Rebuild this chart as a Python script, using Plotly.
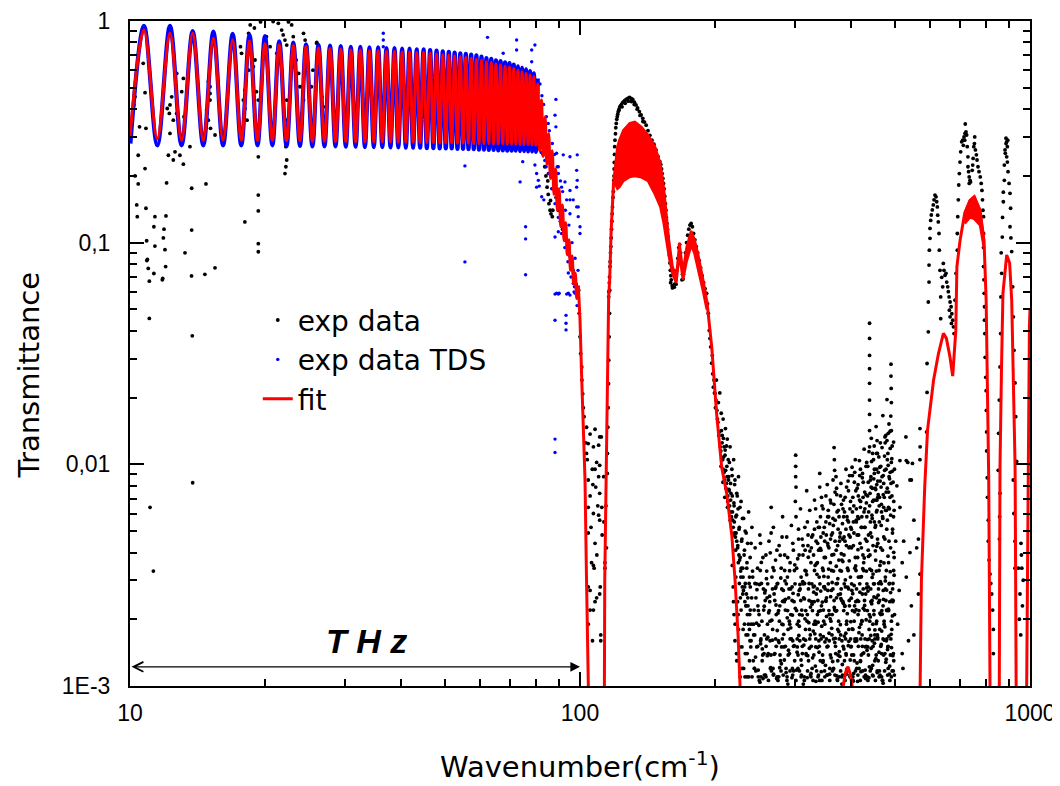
import math
import plotly.graph_objects as go

# ------------------------------------------------------------------ data
# fit: fringe maxima / minima (10 - 100 cm-1)
fit_start_w = 10.0
fit_start_t = 0.30
fit_peak_w = [10.74, 12.27, 13.78, 15.32, 16.91, 18.43, 19.95, 21.46, 23.06, 24.61, 26.23, 27.83,
              29.40, 30.95, 32.50, 34.05, 35.60, 37.15, 38.70, 40.25, 41.80, 43.35, 44.90, 46.45,
              48.00, 49.55, 51.10, 52.65, 54.20, 55.75, 57.30, 58.85, 60.40, 61.95, 63.50, 65.05,
              66.60, 68.15, 69.70, 71.25, 72.80, 74.35, 75.90, 77.45, 79.00, 80.55, 82.10, 83.65,
              85.20, 86.75, 88.30, 89.85, 91.40, 92.95, 94.50, 96.05, 97.60, 99.15]
fit_peak_t = [0.91, 0.88, 0.88, 0.835, 0.82, 0.81, 0.79, 0.78, 0.775, 0.765, 0.755, 0.75,
              0.745, 0.74, 0.74, 0.735, 0.735, 0.73, 0.73, 0.725, 0.725, 0.72, 0.72, 0.715,
              0.71, 0.705, 0.70, 0.695, 0.69, 0.685, 0.68, 0.67, 0.665, 0.655, 0.65, 0.64,
              0.635, 0.625, 0.62, 0.61, 0.60, 0.59, 0.58, 0.57, 0.56, 0.52, 0.44, 0.37,
              0.31, 0.26, 0.215, 0.175, 0.148, 0.123, 0.103, 0.087, 0.073, 0.064]
fit_trough_w = [11.50, 13.02, 14.55, 16.10, 17.67, 19.20, 20.72, 22.28, 23.86, 25.43, 27.05, 28.62,
                30.17, 31.72, 33.27, 34.82, 36.37, 37.92, 39.47, 41.02, 42.57, 44.12, 45.67, 47.22,
                48.77, 50.32, 51.87, 53.42, 54.97, 56.52, 58.07, 59.62, 61.17, 62.72, 64.27, 65.82,
                67.37, 68.92, 70.47, 72.02, 73.57, 75.12, 76.67, 78.22, 79.77, 81.32, 82.87, 84.42,
                85.97, 87.52, 89.07, 90.62, 92.17, 93.72, 95.27, 96.82, 98.37]
fit_trough_t = [0.295, 0.29, 0.29, 0.29, 0.29, 0.29, 0.29, 0.288, 0.288, 0.287, 0.287, 0.286,
                0.286, 0.285, 0.285, 0.285, 0.285, 0.285, 0.284, 0.284, 0.284, 0.283, 0.283, 0.283,
                0.282, 0.282, 0.282, 0.281, 0.281, 0.281, 0.28, 0.28, 0.28, 0.28, 0.279, 0.279,
                0.279, 0.278, 0.278, 0.278, 0.277, 0.277, 0.277, 0.276, 0.275, 0.26, 0.245, 0.225,
                0.195, 0.165, 0.14, 0.118, 0.102, 0.088, 0.075, 0.065, 0.056]

# fit beyond 99 cm-1
fit_tail_w = [99.15, 100.0, 100.8, 101.7, 102.6, 103.4, 103.8, 108.5, 113.3, 113.5, 114.3, 115.1,
              115.8, 116.4, 117.3, 118.8]
fit_tail_t = [0.064, 0.045, 0.0257, 0.015, 0.0085, 0.003, 0.001, 0.00001, 0.001, 0.003, 0.0085, 0.0257,
              0.057, 0.068, 0.114, 0.191]
# fast-oscillating part of the fit (envelopes)
band_w = [118.8, 121.1, 122.3, 124.9, 128.9, 132.4, 136.9, 141.6, 146.8, 150.9, 153.5, 155.8,
          157.7, 160.6, 163.7, 166.3, 169.4, 172.5, 176.6, 179.5, 182.9, 187.8, 191.3]
band_hi = [0.191, 0.271, 0.29, 0.322, 0.345, 0.351, 0.333, 0.306, 0.271, 0.227, 0.178, 0.126,
           0.102, 0.078, 0.070, 0.100, 0.074, 0.095, 0.113, 0.104, 0.089, 0.068, 0.055]
band_lo = [0.191, 0.175, 0.178, 0.19, 0.198, 0.20, 0.197, 0.19, 0.165, 0.145, 0.122, 0.10,
           0.086, 0.072, 0.066, 0.088, 0.068, 0.082, 0.097, 0.09, 0.077, 0.06, 0.05]
fit_tail2_w = [191.3, 196.2, 201.2, 206.5, 211.8, 217.4, 221.1, 224.5, 226.8, 235, 300, 378,
               384.6, 389, 393.6, 398, 402.5, 409, 500, 566, 570, 573.7, 583.5, 592, 610.6, 626,
               642, 652, 664, 673.3, 684, 688, 699, 716, 735.6, 751.8, 774.3, 790.4, 799, 804,
               809.5, 815, 835, 854.6, 857.7, 864.4, 870.7, 887.6, 895, 901, 910.7, 921.8, 926.6,
               931.6, 955, 980, 983.1, 990, 997, 1000]
fit_tail2_t = [0.055, 0.034, 0.0169, 0.0097, 0.0074, 0.0048, 0.003, 0.0017, 0.001, 0.00001, 0.00001, 0.00001,
               0.001, 0.00115, 0.00122, 0.00115, 0.001, 0.00001, 0.00001, 0.00001, 0.001, 0.003, 0.0079, 0.0143, 0.024, 0.0316,
               0.039, 0.037, 0.0305, 0.025, 0.04, 0.078, 0.102, 0.136, 0.155, 0.161, 0.14, 0.102, 0.055, 0.0275,
               0.0087, 0.001, 0.00001, 0.001, 0.0097, 0.0275, 0.059, 0.088, 0.083, 0.081, 0.055, 0.0194, 0.0097,
               0.001, 0.00001, 0.00001, 0.001, 0.012, 0.042, 0.05]
band2_w = [716, 735.6, 751.8, 774.3, 790.4]
band2_hi = [0.136, 0.155, 0.161, 0.14, 0.102]
band2_lo = [0.122, 0.13, 0.128, 0.12, 0.094]

# TDS data: fringe extrema (densely sampled, 10 - 81 cm-1)
tds_start_w = 10.02
tds_start_t = 0.28
tds_peak_t = [0.95, 0.95, 0.90, 0.895, 0.875, 0.865, 0.855, 0.81, 0.80, 0.785,
              0.78, 0.775, 0.77, 0.765, 0.765, 0.76, 0.76, 0.755, 0.755, 0.75,
              0.75, 0.745, 0.745, 0.74, 0.735, 0.73, 0.725, 0.72, 0.715, 0.71,
              0.705, 0.70, 0.69, 0.68, 0.675, 0.665, 0.66, 0.65, 0.645, 0.635,
              0.625, 0.615, 0.605, 0.595, 0.58, 0.55]
tds_trough_t = [0.275, 0.275, 0.275, 0.275, 0.275, 0.275, 0.275, 0.273, 0.273, 0.272,
                0.272, 0.272, 0.271, 0.271, 0.27, 0.27, 0.27, 0.269, 0.269, 0.268,
                0.268, 0.268, 0.267, 0.267, 0.266, 0.266, 0.266, 0.265, 0.265, 0.264,
                0.264, 0.263, 0.263, 0.262, 0.262, 0.261, 0.261, 0.26, 0.26, 0.26,
                0.259, 0.259, 0.258, 0.258, 0.257]
# TDS scattered points
tds_points = [
    (36.55, 0.88), (36.55, 0.821), (36.55, 0.765), (62.3, 0.844), (67.5, 0.715), (72.3, 0.821), (72.3, 0.74),
    (78.1, 0.74), (79.4, 0.779), (78.1, 0.655), (55.5, 0.222), (55.5, 0.0819), (73.6, 0.188), (75.7, 0.118),
    (75.7, 0.104), (75.7, 0.0717), (79.4, 0.224), (80.1, 0.205), (80.1, 0.178), (82.2, 0.161), (80.8, 0.191),
    (83.6, 0.29), (85.0, 0.345), (85.0, 0.30), (88.4, 0.443), (88.0, 0.376), (88.4, 0.333), (88.7, 0.253),
    (89.5, 0.22), (89.5, 0.205), (91.8, 0.249), (95.0, 0.244), (98.6, 0.249), (98.3, 0.212), (98.6, 0.191),
    (98.3, 0.178), (99.1, 0.145), (99.1, 0.131), (100.0, 0.118), (100.0, 0.11), (92.6, 0.188), (95.0, 0.172),
    (95.0, 0.156), (95.0, 0.135), (93.4, 0.156), (88.0, 0.106), (89.5, 0.112), (93.4, 0.096), (95.0, 0.0866),
    (94.2, 0.073), (94.2, 0.0591), (88.7, 0.0591), (89.9, 0.0591), (96.6, 0.073), (97.2, 0.0632), (98.3, 0.145),
    (96.6, 0.156), (91.0, 0.178), (90.3, 0.145), (87.2, 0.205), (85.8, 0.235), (84.1, 0.22), (81.2, 0.18),
    (83.1, 0.156), (74.6, 0.232), (88.0, 0.0586), (89.5, 0.0586), (93.4, 0.0586), (95.0, 0.058), (93.1, 0.047),
    (93.1, 0.0433), (93.1, 0.0404), (88.0, 0.0447), (88.0, 0.013), (88.0, 0.0113), (96.6, 0.0655), (98.6, 0.0632),
    (97.5, 0.0591), (81.5, 0.52), (82.3, 0.46), (83.0, 0.42), (84.2, 0.37), (85.5, 0.32), (86.8, 0.28),
    (87.8, 0.25), (89.0, 0.22), (90.5, 0.19), (91.5, 0.17), (92.8, 0.14), (94.5, 0.12), (96.0, 0.10),
    (97.5, 0.085), (99.0, 0.075), (82.0, 0.255), (83.5, 0.235), (85.0, 0.205), (86.5, 0.175), (88.0, 0.15),
    (89.5, 0.13), (91.0, 0.11), (92.5, 0.095), (94.0, 0.082), (95.5, 0.07), (97.0, 0.06), (98.5, 0.052)]

# FTIR experimental data ("exp data")
exp_low = [
    (10.26, 0.455), (10.2, 0.418), (10.7, 0.644), (10.8, 0.475), (10.5, 0.333), (10.85, 0.328), (10.43, 0.248),
    (10.8, 0.216), (10.26, 0.2), (10.43, 0.184), (10.35, 0.148), (10.85, 0.143), (10.38, 0.131), (11.36, 0.131),
    (11.3, 0.118), (10.89, 0.102), (11.9, 0.115), (11.86, 0.105), (12.02, 0.132), (12.06, 0.186), (11.96, 0.093),
    (11.36, 0.0965), (10.93, 0.084), (12.17, 0.248), (12.48, 0.236), (12.59, 0.257), (12.91, 0.248), (13.14, 0.226),
    (12.7, 0.58), (13.14, 0.551), (13.03, 0.48), (12.38, 0.455), (12.27, 0.418), (12.1, 0.403), (12.23, 0.383),
    (12.48, 0.357), (12.27, 0.311), (12.7, 0.383), (13.18, 0.37), (13.59, 0.271), (13.71, 0.176), (13.71, 0.114),
    (13.25, 0.09), (14.75, 0.184), (14.93, 0.532), (15.06, 0.471), (15.06, 0.44), (14.8, 0.397), (14.93, 0.357),
    (15.1, 0.328), (15.45, 0.306), (15.06, 0.505), (18.0, 0.124), (19.28, 0.164), (19.28, 0.139), (19.28, 0.099),
    (19.28, 0.091), (19.28, 0.244), (18.5, 0.96), (18.35, 0.88), (17.6, 0.766), (17.7, 0.715), (18.35, 0.6),
    (18.8, 0.622), (18.96, 0.667), (18.44, 0.766), (18.1, 0.542), (18.0, 0.488), (17.86, 0.44), (18.0, 0.403),
    (18.2, 0.357), (19.1, 0.48), (19.28, 0.44), (20.1, 0.85), (20.48, 0.766), (21.2, 0.715), (21.36, 0.976),
    (21.73, 0.91), (21.9, 0.865), (22.1, 0.82), (22.3, 0.779), (22.87, 0.96), (23.06, 0.85), (22.3, 0.44),
    (22.3, 0.357), (22.2, 0.271), (22.3, 0.236), (22.2, 0.22), (22.1, 0.205), (24.3, 0.88), (24.5, 0.82),
    (24.7, 0.766), (23.4, 0.667), (23.7, 0.58), (23.86, 0.505), (24.3, 0.44), (24.1, 0.383), (26.0, 0.793),
    (26.2, 0.74), (26.7, 0.455), (26.9, 0.41), (27.1, 0.357), (25.3, 0.505), (25.5, 0.6), (12.0, 0.078),
    (10.9, 0.083), (10.98, 0.0765), (11.04, 0.067), (11.3, 0.0726), (11.82, 0.069), (13.7, 0.0708), (14.67, 0.072),
    (15.45, 0.077), (11.04, 0.0455), (13.75, 0.038), (13.78, 0.00826), (11.08, 0.0064), (11.27, 0.0033),
    (11.8, 0.068), (19.5, 0.99), (20.8, 0.995), (22.5, 0.99), (18.9, 0.93), (26.0, 0.8)]
exp_edge = [
    (83.2, 0.30), (82.8, 0.25), (83.5, 0.22), (84.0, 0.20), (84.8, 0.19), (84.5, 0.178), (85.0, 0.165),
    (85.3, 0.15), (85.8, 0.14), (86.2, 0.135), (86.8, 0.131), (87.0, 0.14), (86.0, 0.155), (88.5, 0.16),
    (89.5, 0.14), (90.5, 0.125), (91.5, 0.115), (92.5, 0.105), (93.5, 0.095), (94.5, 0.09), (95.5, 0.082),
    (96.5, 0.075), (97.3, 0.07), (98.0, 0.065), (98.7, 0.06), (99.3, 0.061), (99.6, 0.048), (100.0, 0.0376),
    (100.35, 0.0316), (100.9, 0.0275), (101.0, 0.024), (101.4, 0.0208), (101.7, 0.018), (102.1, 0.0164),
    (103.4, 0.0147), (105.3, 0.0137), (108.0, 0.0144), (110.6, 0.0133), (104.3, 0.0124), (107.1, 0.012),
    (110.0, 0.0122), (103.4, 0.0112), (108.9, 0.0102), (110.6, 0.0099), (108.0, 0.0095), (110.0, 0.0088),
    (104.3, 0.0085), (108.4, 0.0079), (110.6, 0.0074), (105.3, 0.0072), (107.1, 0.006), (104.3, 0.0064),
    (110.0, 0.0059), (104.3, 0.0049), (110.6, 0.0056), (108.0, 0.0044), (114.5, 0.0042), (106.1, 0.0036),
    (113.6, 0.0036), (107.1, 0.0035), (112.9, 0.0088), (111.5, 0.0133), (116.4, 0.061), (116.3, 0.048),
    (116.1, 0.0376), (115.8, 0.0295), (115.7, 0.0231), (115.5, 0.018), (115.3, 0.0147), (115.1, 0.0112),
    (115.0, 0.0091), (107.5, 0.0034), (104.3, 0.0028), (105.3, 0.0027), (108.9, 0.0025), (110.6, 0.0026),
    (108.0, 0.0024), (105.3, 0.0022), (107.1, 0.0022), (104.3, 0.0019), (106.6, 0.0016), (111.2, 0.0017),
    (111.2, 0.0016), (110.9, 0.0028), (113.6, 0.0034), (106.5, 0.0095), (109.5, 0.0065), (105.8, 0.0052),
    (112.0, 0.0048), (109.0, 0.0039), (103.8, 0.0105), (106.8, 0.0081), (111.8, 0.0064), (113.0, 0.0055),
    (114.2, 0.0065), (103.0, 0.0125)]
exp_band = [
    (115.8, 0.057), (115.9, 0.06), (116.2, 0.066), (116.3, 0.07), (116.6, 0.078), (116.7, 0.082), (116.9, 0.09),
    (117.1, 0.096), (117.3, 0.105), (117.5, 0.115), (117.7, 0.125), (117.9, 0.135), (118.1, 0.145), (118.4, 0.16),
    (118.6, 0.17), (118.9, 0.191), (119.0, 0.2), (119.1, 0.215), (119.2, 0.23), (119.3, 0.25), (119.4, 0.271),
    (119.6, 0.29), (119.9, 0.31), (120.1, 0.33), (120.4, 0.345), (120.7, 0.36), (121.0, 0.37), (121.3, 0.38),
    (121.6, 0.39), (122.1, 0.40), (122.6, 0.41), (123.1, 0.415), (123.7, 0.422), (124.6, 0.43), (125.6, 0.437),
    (126.6, 0.443), (127.7, 0.448), (128.8, 0.452), (129.9, 0.448), (131.0, 0.443), (132.1, 0.43), (133.2, 0.418),
    (134.3, 0.405), (135.5, 0.39), (136.7, 0.377), (137.9, 0.364), (139.1, 0.35), (140.3, 0.339), (141.6, 0.32),
    (143.0, 0.305), (144.5, 0.29), (146.0, 0.278), (147.5, 0.262), (149.0, 0.245), (150.5, 0.232), (151.2, 0.225),
    (151.8, 0.215), (152.3, 0.205), (152.8, 0.195), (153.3, 0.185), (153.8, 0.175), (154.3, 0.162), (154.8, 0.15),
    (155.2, 0.14), (155.6, 0.13), (156.0, 0.122), (156.4, 0.115), (156.8, 0.107), (157.2, 0.1), (157.6, 0.094),
    (158.0, 0.088), (158.4, 0.081), (158.8, 0.075), (159.2, 0.071), (159.5, 0.068), (160.3, 0.064), (161.2, 0.0635),
    (162.2, 0.065), (163.2, 0.068), (164.2, 0.075), (165.0, 0.085), (165.8, 0.095), (166.5, 0.098), (167.3, 0.09),
    (168.2, 0.08), (169.0, 0.072), (169.8, 0.072), (170.6, 0.08), (171.5, 0.09), (172.5, 0.1), (173.5, 0.108),
    (174.5, 0.115), (175.5, 0.12), (176.6, 0.122), (177.7, 0.118), (178.8, 0.11), (180.0, 0.103), (181.3, 0.096),
    (182.6, 0.09), (184.0, 0.083), (185.4, 0.077), (186.8, 0.071), (188.2, 0.066), (189.6, 0.062), (122.0, 0.395),
    (124.0, 0.41), (126.0, 0.425), (128.0, 0.435), (130.0, 0.433), (132.0, 0.42), (134.0, 0.4), (136.0, 0.375),
    (138.0, 0.352), (159.0, 0.066), (160.5, 0.0625), (162.0, 0.063), (163.5, 0.065), (168.5, 0.068), (169.5, 0.0685)]
exp_noise_a = [
    (199, 0.021), (200, 0.018), (201, 0.024), (202, 0.016), (203, 0.019), (204, 0.014), (204.5, 0.021), (205, 0.012),
    (206, 0.017), (206.5, 0.0105), (207, 0.0135), (208, 0.0095), (208, 0.016), (209, 0.012), (209.5, 0.0085),
    (210, 0.011), (210.5, 0.0145), (211, 0.0078), (212, 0.0098), (212.5, 0.013), (213, 0.0072), (213.5, 0.0105),
    (214, 0.0088), (215, 0.0065), (215.5, 0.012), (216, 0.0082), (217, 0.0058), (217.5, 0.0095), (218, 0.0072),
    (219, 0.0052), (219.5, 0.0105), (220, 0.0065), (221, 0.0085), (221.5, 0.0047), (222, 0.0058), (223, 0.0074),
    (224, 0.0042), (224.5, 0.0063), (225, 0.0088), (226, 0.0052), (227, 0.0038), (228, 0.0068), (229, 0.0046),
    (230, 0.0034), (231, 0.0057), (232, 0.0041), (233, 0.0029), (234, 0.0049), (235, 0.0036), (236, 0.0025),
    (237, 0.0061), (238, 0.0031), (239, 0.0022), (240, 0.0044), (218, 0.0035), (219, 0.0028), (220, 0.0021),
    (221, 0.0016), (222, 0.0031), (223, 0.0013), (224, 0.0024), (225, 0.0018), (226, 0.0029), (227, 0.0011),
    (228, 0.0022), (229, 0.0015), (230, 0.0026), (231, 0.0012), (232, 0.0019), (233, 0.0014), (234, 0.0023),
    (235, 0.0011), (236, 0.0017), (238, 0.0013), (239, 0.0028), (240, 0.0016), (191.2, 0.059), (192.0, 0.053),
    (192.8, 0.048), (193.8, 0.0402), (194.5, 0.037), (195.2, 0.0339), (196.2, 0.0286), (196.8, 0.031),
    (197.2, 0.0256), (197.9, 0.0223), (198.5, 0.024), (199.5, 0.0209), (200.5, 0.0195), (201.5, 0.0175),
    (202.5, 0.0155), (203.5, 0.0135), (205.5, 0.0115), (207.5, 0.0105), (209, 0.0092), (211.5, 0.0082),
    (213, 0.0068), (214.5, 0.0076), (216, 0.0061), (218.5, 0.0056), (220.5, 0.0049), (223, 0.0045),
    (225.5, 0.0039), (227.5, 0.0033), (229.5, 0.0028), (232.5, 0.0024), (235.5, 0.0021), (238, 0.0018)]
exp_noise_b = [
    (241, 0.0052), (242, 0.0031), (243, 0.0019), (244, 0.0012), (245, 0.0042), (246, 0.0025), (247, 0.0015),
    (248, 0.0034), (249, 0.0011), (250, 0.0021), (251, 0.0048), (252, 0.0016), (253, 0.0029), (254, 0.0013),
    (255, 0.0038), (256, 0.0022), (257, 0.0017), (258, 0.0027), (259, 0.0011), (260, 0.0033), (261, 0.0019),
    (262, 0.0014), (263, 0.0045), (264, 0.0024), (265, 0.0012), (266, 0.0064), (267, 0.0031), (268, 0.0018),
    (269, 0.0052), (270, 0.0026), (271, 0.0014), (272, 0.0037), (273, 0.0021), (274, 0.0011), (275, 0.0029),
    (276, 0.0016), (277, 0.0043), (278, 0.0023), (279, 0.0013), (280, 0.0034), (281, 0.0019), (282, 0.0058),
    (283, 0.0027), (284, 0.0015), (285, 0.0039), (286, 0.0022), (287, 0.0012), (288, 0.0047), (289, 0.0031),
    (290, 0.0018), (291, 0.0025), (292, 0.0014), (293, 0.0036), (294, 0.0021), (295, 0.0053), (296, 0.0028),
    (297, 0.0016), (298, 0.0041), (299, 0.0024), (300, 0.0013), (301.5, 0.011), (301.5, 0.0098), (301.5, 0.0088),
    (302, 0.0079), (301, 0.0068), (302, 0.0058), (244.5, 0.0017), (248.5, 0.0023), (252.5, 0.0011),
    (256.5, 0.0014), (260.5, 0.0025), (264.5, 0.0016), (268.5, 0.0012), (272.5, 0.0028), (276.5, 0.0011),
    (280.5, 0.0015), (284.5, 0.0024), (288.5, 0.0011), (292.5, 0.0019), (296.5, 0.0012)]
exp_noise_c = [
    (303, 0.0034), (304, 0.0019), (305, 0.0012), (306, 0.0046), (307, 0.0027), (308, 0.0016), (309, 0.0063),
    (310, 0.0031), (311, 0.0022), (312, 0.0014), (313, 0.0039), (314, 0.0025), (315, 0.0011), (316, 0.0052),
    (317, 0.0018), (318, 0.0033), (319, 0.0076), (320, 0.0021), (321, 0.0043), (322, 0.0013), (323, 0.0029),
    (324, 0.0062), (325, 0.0017), (326, 0.0036), (327, 0.0024), (328, 0.0012), (329, 0.0048), (330, 0.0028),
    (331, 0.0019), (332, 0.0069), (333, 0.0035), (334, 0.0015), (335, 0.0026), (336, 0.0055), (337, 0.0021),
    (338, 0.0011), (339, 0.0041), (340, 0.0031), (341, 0.0091), (341, 0.0079), (342, 0.0017), (343, 0.0047),
    (344, 0.0023), (345, 0.0065), (346, 0.0034), (347, 0.0013), (348, 0.0028), (349, 0.0052), (350, 0.0019),
    (351, 0.0038), (352, 0.0072), (353, 0.0025), (354, 0.0015), (355, 0.0044), (356, 0.0031), (357, 0.0058),
    (358, 0.0021), (359, 0.0012), (360, 0.0036), (361, 0.0067), (362, 0.0027), (363, 0.0017), (364, 0.0049),
    (365, 0.0085), (366, 0.0033), (367, 0.0119), (367.5, 0.0105), (368, 0.0094), (368, 0.0022), (369, 0.0056),
    (370, 0.0014), (371, 0.0041), (372, 0.0073), (373, 0.0029), (374, 0.0018), (375, 0.0062), (376, 0.0037),
    (377, 0.0011), (378, 0.0047), (379, 0.0026), (380, 0.0082), (381, 0.0033), (382, 0.0016), (383, 0.0054),
    (384, 0.0024), (385, 0.0069), (386, 0.0039), (387, 0.0013), (388, 0.0045), (389, 0.0028), (390, 0.0095),
    (391, 0.0019), (392, 0.0058), (393, 0.0034), (394, 0.0012), (395, 0.0076), (396, 0.0042), (397, 0.0023),
    (398, 0.0063), (399, 0.0031), (400, 0.0015), (304, 0.0015), (310, 0.0011), (318, 0.0014), (326, 0.0011),
    (334, 0.0019), (342, 0.0013), (350, 0.0011), (358, 0.0016), (366, 0.0012), (374, 0.0013), (382, 0.0011),
    (390, 0.0014), (398, 0.0011), (307.5, 0.0021), (315.5, 0.0029), (323.5, 0.0018), (331.5, 0.0024),
    (339.5, 0.0016), (347.5, 0.0022), (355.5, 0.0027), (363.5, 0.0021), (371.5, 0.0025), (379.5, 0.0017),
    (387.5, 0.0023), (395.5, 0.0018)]
exp_noise_d = [
    (401, 0.0051), (402, 0.0027), (403, 0.0089), (404, 0.0018), (405, 0.0043), (406, 0.0065), (407, 0.0013),
    (408, 0.0034), (409, 0.0105), (410, 0.0024), (411, 0.0056), (412, 0.0016), (413, 0.0078), (414, 0.0038),
    (415, 0.0021), (416, 0.0048), (417, 0.0012), (418, 0.0069), (419, 0.0031), (420, 0.0095), (421, 0.0019),
    (422, 0.0042), (423, 0.0058), (424, 0.0026), (425, 0.0014), (426, 0.0083), (427, 0.0036), (428, 0.0117),
    (429, 0.0022), (430, 0.0052), (431, 0.0015), (432, 0.0073), (433, 0.0033), (434, 0.0045), (435, 0.0011),
    (436, 0.0098), (437, 0.0028), (438, 0.0061), (439, 0.0018), (440, 0.0433), (440, 0.037), (440, 0.031),
    (440, 0.027), (440, 0.0232), (440, 0.0195), (440, 0.0168), (440, 0.0142), (440, 0.012), (441, 0.0039),
    (442, 0.0085), (443, 0.0024), (444, 0.0131), (445, 0.0047), (446, 0.0016), (447, 0.0068), (448, 0.0032),
    (449, 0.0105), (450, 0.0021), (451, 0.0055), (452, 0.0013), (453, 0.0078), (454, 0.0037), (455, 0.0148),
    (456, 0.0025), (457, 0.0062), (458, 0.0017), (459, 0.0044), (460, 0.0092), (461, 0.0029), (462, 0.0011),
    (463, 0.0071), (464, 0.0035), (465, 0.0125), (466, 0.0021), (467, 0.0053), (468, 0.0014), (469, 0.0088),
    (470, 0.0041), (471, 0.0166), (472, 0.0027), (473, 0.0064), (474, 0.0019), (475, 0.0109), (476, 0.0046),
    (477, 0.0031), (478, 0.0135), (479, 0.0075), (480, 0.0022), (481, 0.0196), (482, 0.0056), (483, 0.0015),
    (484, 0.0099), (485, 0.0036), (486, 0.0152), (487, 0.0063), (488, 0.0024), (489, 0.0118), (490, 0.0042),
    (491, 0.0283), (491, 0.025), (491.5, 0.022), (492, 0.019), (490.5, 0.0165), (492, 0.0142), (491, 0.0082),
    (493, 0.0018), (494, 0.0093), (495, 0.0051), (496, 0.0029), (497, 0.0014), (498, 0.0068), (499, 0.0038),
    (500, 0.0021), (404, 0.0011), (412, 0.0012), (420, 0.0013), (428, 0.0011), (436, 0.0015), (444, 0.0012),
    (452, 0.0017), (460, 0.0013), (468, 0.0011), (476, 0.0014), (484, 0.0012), (492, 0.0011), (498, 0.0013),
    (456, 0.0112), (456, 0.0095), (456.5, 0.0081), (457, 0.0069), (407.5, 0.0023), (415.5, 0.0031),
    (423.5, 0.0017), (431.5, 0.0026), (439.5, 0.0021), (447.5, 0.0019), (455.5, 0.0033), (463.5, 0.0018),
    (471.5, 0.0023), (479.5, 0.0016), (487.5, 0.0029), (495.5, 0.0024), (443, 0.0088), (447, 0.0112),
    (451, 0.0095), (459, 0.0071), (466, 0.0098), (473, 0.0082), (481, 0.0128), (485, 0.0075), (489, 0.0092),
    (494, 0.0121)]
exp_noise_e = [
    (514, 0.0104), (530, 0.0133), (531, 0.0104), (548, 0.0101), (569.5, 0.0105), (569.5, 0.0145), (570, 0.012),
    (535, 0.0102), (545, 0.0085), (514, 0.0064), (541, 0.0085), (552, 0.0056), (565, 0.0046), (560, 0.0042),
    (541, 0.004), (520, 0.0036), (531, 0.0031), (569.5, 0.0032), (524, 0.0045), (506, 0.008), (520, 0.0014),
    (522, 0.0012), (565, 0.0026), (552, 0.0017), (572, 0.0032), (545, 0.0023), (508, 0.0019), (512, 0.0027),
    (503, 0.0045), (537, 0.0016)]
exp_noise_f = [
    (245.5, 0.00135), (247.3, 0.00272), (249.8, 0.00188), (251.1, 0.00104), (252.9, 0.00361), (254.2, 0.00147),
    (256.7, 0.00229), (258.3, 0.00112), (259.6, 0.00305), (261.4, 0.00166), (263.9, 0.00254), (265.2, 0.00121),
    (266.8, 0.00198), (268.4, 0.00342), (270.1, 0.00139), (271.7, 0.00276), (273.5, 0.00108), (275.3, 0.00213),
    (276.9, 0.00157), (278.6, 0.00389), (280.2, 0.00126), (281.9, 0.00241), (283.7, 0.00171), (285.4, 0.00298),
    (287.1, 0.00115), (288.8, 0.00203), (290.6, 0.00145), (292.3, 0.00331), (294.0, 0.00183), (295.8, 0.00109),
    (297.5, 0.00262), (299.3, 0.00152), (301.0, 0.00224), (302.8, 0.00118), (304.6, 0.00375), (306.4, 0.00169),
    (308.1, 0.00287), (309.9, 0.00131), (311.7, 0.00209), (313.5, 0.00102), (315.3, 0.00247), (317.1, 0.00161),
    (318.9, 0.00318), (320.7, 0.00137), (322.5, 0.00193), (324.3, 0.00406), (326.1, 0.00114), (327.9, 0.00234),
    (329.8, 0.00177), (331.6, 0.00282), (333.4, 0.00123), (335.3, 0.00356), (337.1, 0.00149), (339.0, 0.00217),
    (340.8, 0.00106), (342.7, 0.00268), (344.5, 0.00186), (346.4, 0.00128), (348.3, 0.00312), (350.2, 0.00158),
    (352.1, 0.00241), (353.9, 0.00112), (355.8, 0.00429), (357.7, 0.00173), (359.6, 0.00201), (361.5, 0.00134),
    (363.4, 0.00293), (365.3, 0.00119), (367.3, 0.00226), (369.2, 0.00164), (371.1, 0.00347), (373.0, 0.00107),
    (375.0, 0.00258), (376.9, 0.00143), (378.9, 0.00189), (380.8, 0.00395), (382.8, 0.00125), (384.7, 0.00236),
    (386.7, 0.00168), (388.7, 0.00301), (390.6, 0.00113), (392.6, 0.00212), (394.6, 0.00152), (396.6, 0.00367),
    (398.6, 0.00131), (400.6, 0.00249), (402.6, 0.00181), (404.6, 0.00105), (406.6, 0.00284), (408.6, 0.00159),
    (410.7, 0.00221), (412.7, 0.00127), (414.7, 0.00412), (416.8, 0.00174), (418.8, 0.00265), (420.9, 0.00116),
    (422.9, 0.00197), (425.0, 0.00338), (427.1, 0.00141), (429.1, 0.00231), (431.2, 0.00108), (433.3, 0.00277),
    (435.4, 0.00162), (437.5, 0.00384), (439.6, 0.00122), (441.7, 0.00205), (443.8, 0.00148), (445.9, 0.00309),
    (448.0, 0.00111), (450.1, 0.00252), (452.2, 0.00179), (454.4, 0.00133), (456.5, 0.00427), (458.6, 0.00166),
    (460.8, 0.00238), (462.9, 0.00117), (465.1, 0.00296), (467.2, 0.00154), (469.4, 0.00211), (471.6, 0.00103),
    (473.7, 0.00359), (475.9, 0.00185), (478.1, 0.00128), (480.3, 0.00271), (482.5, 0.00146), (484.7, 0.00222),
    (486.9, 0.00113), (489.1, 0.00328), (491.3, 0.00171), (493.5, 0.00244), (495.7, 0.00137), (497.9, 0.00401),
    (246.8, 0.00192), (248.9, 0.00118), (250.5, 0.00287), (252.0, 0.00155), (255.1, 0.00108), (257.4, 0.00263),
    (260.8, 0.00137), (262.6, 0.00214), (264.7, 0.00399), (267.5, 0.00161), (269.3, 0.00113), (272.6, 0.00232),
    (274.4, 0.00178), (277.8, 0.00121), (279.4, 0.00307), (282.6, 0.00189), (284.5, 0.00131), (286.2, 0.00246),
    (289.7, 0.00102), (291.4, 0.00274), (293.1, 0.00163), (296.6, 0.00209), (298.4, 0.00117), (300.1, 0.00352),
    (303.7, 0.00142), (305.5, 0.00258), (307.2, 0.00186), (310.8, 0.00124), (312.6, 0.00296), (314.4, 0.00153),
    (316.2, 0.00201), (319.8, 0.00109), (321.6, 0.00381), (323.4, 0.00148), (325.2, 0.00227), (328.8, 0.00134),
    (330.7, 0.00265), (332.5, 0.00172), (334.4, 0.00105), (336.2, 0.00319), (338.1, 0.00194), (339.9, 0.00142),
    (341.8, 0.00418), (343.6, 0.00116), (345.5, 0.00239), (347.4, 0.00167), (349.2, 0.00281), (351.1, 0.00124),
    (353.0, 0.00206), (354.9, 0.00151), (356.8, 0.00337), (358.7, 0.00113), (360.6, 0.00253), (362.5, 0.00182),
    (364.4, 0.00129), (366.3, 0.00392), (368.3, 0.00157), (370.2, 0.00218), (372.1, 0.00111), (374.1, 0.00305),
    (376.0, 0.00176), (378.0, 0.00136), (379.9, 0.00248), (381.9, 0.00102), (383.8, 0.00364), (385.8, 0.00147),
    (387.8, 0.00229), (389.7, 0.00173), (391.7, 0.00119), (393.7, 0.00279), (395.7, 0.00159), (397.7, 0.00424),
    (399.7, 0.00195), (401.7, 0.00138), (403.7, 0.00261), (405.7, 0.00114), (407.7, 0.00216), (409.8, 0.00348),
    (411.8, 0.00163), (413.8, 0.00105), (415.9, 0.00241), (417.9, 0.00184), (420.0, 0.00129), (422.0, 0.00311),
    (424.1, 0.00151), (426.1, 0.00224), (428.2, 0.00378), (430.3, 0.00118), (432.4, 0.00199), (434.4, 0.00145),
    (436.5, 0.00268), (438.6, 0.00109), (440.7, 0.00337), (442.8, 0.00169), (444.9, 0.00235), (447.0, 0.00124),
    (449.1, 0.00289), (451.2, 0.00156), (453.3, 0.00407), (455.4, 0.00191), (457.6, 0.00115), (459.7, 0.00257),
    (461.8, 0.00142), (464.0, 0.00213), (466.1, 0.00364), (468.3, 0.00177), (470.4, 0.00106), (472.6, 0.00246),
    (474.8, 0.00161), (477.0, 0.00298), (479.1, 0.00132), (481.3, 0.00219), (483.5, 0.00385), (485.7, 0.00168),
    (487.9, 0.00123), (490.1, 0.00264), (492.3, 0.00149), (494.5, 0.00207), (496.8, 0.00117), (499.0, 0.00316)]
exp_noise_g = [
    (251.8, 0.0044), (258.9, 0.0039), (265.9, 0.0049), (273.9, 0.0041), (281.2, 0.0047), (289.4, 0.0038),
    (297.1, 0.0044), (305.9, 0.0051), (313.1, 0.0043), (320.1, 0.0055), (327.3, 0.0047), (333.9, 0.0063),
    (338.6, 0.0052), (344.1, 0.0071), (349.8, 0.0045), (354.4, 0.0081), (358.9, 0.0054), (362.1, 0.0048),
    (366.6, 0.0066), (370.6, 0.0088), (374.6, 0.0051), (379.2, 0.0072), (383.3, 0.0046), (387.1, 0.0061),
    (391.2, 0.0079), (395.1, 0.0055), (399.2, 0.0068), (402.3, 0.0097), (406.2, 0.0049), (410.1, 0.0076),
    (414.2, 0.0058), (418.3, 0.0089), (421.6, 0.0052), (425.6, 0.0071), (429.6, 0.0063), (433.6, 0.0102),
    (437.6, 0.0048), (441.1, 0.0074), (445.4, 0.0059), (449.6, 0.0086), (453.9, 0.0053), (458.1, 0.0112),
    (462.3, 0.0065), (466.7, 0.0079), (470.9, 0.0057), (475.3, 0.0094), (479.8, 0.0062), (484.2, 0.0138),
    (488.6, 0.0071), (493.1, 0.0106), (497.4, 0.0058), (486.2, 0.0088), (481.9, 0.0105), (476.6, 0.0125),
    (472.0, 0.0073), (467.8, 0.0061), (463.6, 0.0097), (458.9, 0.0084), (454.7, 0.0069), (450.6, 0.0121),
    (446.3, 0.0078), (441.9, 0.0055), (437.1, 0.0083), (432.9, 0.0067), (428.7, 0.0052), (424.4, 0.0091),
    (419.9, 0.0064), (415.4, 0.0072), (411.2, 0.0055), (407.1, 0.0083), (403.2, 0.0061), (398.4, 0.0047),
    (394.2, 0.0084), (389.9, 0.0051), (385.4, 0.0058), (381.2, 0.0066), (377.1, 0.0045), (372.6, 0.0061),
    (368.7, 0.0075), (364.9, 0.0057), (360.4, 0.0046), (356.2, 0.0062), (351.9, 0.0055), (347.1, 0.0049),
    (342.3, 0.0058), (337.4, 0.0044), (332.0, 0.0051), (326.6, 0.0042), (321.2, 0.0048), (316.5, 0.0041),
    (311.6, 0.0046), (306.8, 0.0039)]
exp_noise_h = [
    (205.8, 0.0098), (206.9, 0.0125), (207.8, 0.0083), (208.6, 0.0108), (209.8, 0.0071), (210.7, 0.0094),
    (211.6, 0.0121), (212.7, 0.0064), (213.7, 0.0085), (214.8, 0.0102), (215.7, 0.0056), (216.5, 0.0074),
    (217.8, 0.0089), (218.7, 0.0048), (219.8, 0.0067), (220.6, 0.0081), (221.7, 0.0041), (222.7, 0.0059),
    (223.6, 0.0072), (224.8, 0.0036), (225.6, 0.0051), (226.7, 0.0064), (227.8, 0.0031), (228.6, 0.0045),
    (229.7, 0.0057), (230.8, 0.0027), (231.6, 0.0039), (232.8, 0.005), (233.7, 0.0023), (234.7, 0.0034),
    (235.8, 0.0044), (236.7, 0.0019), (237.6, 0.0029), (238.8, 0.0038), (239.6, 0.0015), (240.7, 0.0025),
    (241.8, 0.0033), (242.7, 0.0013), (243.7, 0.0022), (244.8, 0.0029), (206.2, 0.0142), (208.3, 0.0131),
    (210.2, 0.0116), (212.2, 0.0088), (214.3, 0.0077), (216.2, 0.0069), (218.2, 0.0061), (220.2, 0.0055),
    (222.3, 0.0049), (224.2, 0.0043), (226.3, 0.0037), (228.2, 0.0034), (230.3, 0.0031), (232.2, 0.0028),
    (234.3, 0.0026), (236.2, 0.0023), (238.3, 0.0021), (240.2, 0.0019), (219.3, 0.0024), (221.2, 0.0019),
    (222.8, 0.0014), (224.6, 0.0021), (226.1, 0.0015), (227.2, 0.0025), (229.1, 0.0012), (230.4, 0.0018),
    (232.6, 0.0011), (233.9, 0.0017), (235.2, 0.0014), (237.1, 0.0011), (238.6, 0.0016), (241.1, 0.0011),
    (243.2, 0.0017), (244.3, 0.0012)]
exp_noise_i = [
    (245.9, 0.00117), (247.0, 0.00289), (248.2, 0.00151), (249.1, 0.00219), (250.3, 0.00106), (251.5, 0.00332),
    (252.4, 0.00163), (253.6, 0.00196), (254.7, 0.00138), (255.6, 0.00274), (256.9, 0.00112), (258.0, 0.00243),
    (259.1, 0.00151), (260.1, 0.00163), (261.3, 0.00289), (262.3, 0.00106), (263.4, 0.00219), (264.4, 0.00196),
    (265.6, 0.00138), (266.4, 0.00117), (267.8, 0.00274), (268.9, 0.00112), (269.8, 0.00332), (270.9, 0.00243),
    (272.1, 0.00163), (273.0, 0.00151), (274.2, 0.00289), (275.4, 0.00106), (276.3, 0.00219), (277.4, 0.00196),
    (278.3, 0.00138), (279.7, 0.00117), (280.8, 0.00274), (281.6, 0.00163), (282.9, 0.00112), (284.0, 0.00243),
    (285.0, 0.00332), (286.0, 0.00151), (287.4, 0.00289), (288.3, 0.00106), (289.3, 0.00219), (290.2, 0.00138),
    (291.8, 0.00196), (292.9, 0.00117), (293.8, 0.00274), (295.1, 0.00163), (296.1, 0.00243), (297.0, 0.00112),
    (298.2, 0.00151), (299.6, 0.00332), (300.5, 0.00289), (301.9, 0.00106), (302.9, 0.00219), (303.9, 0.00163),
    (305.1, 0.00138), (306.1, 0.00196), (307.4, 0.00117), (308.5, 0.00274), (309.5, 0.00243), (310.6, 0.00112),
    (311.9, 0.00151), (312.9, 0.00289), (314.0, 0.00163), (315.1, 0.00106), (316.3, 0.00332), (317.4, 0.00219),
    (318.4, 0.00138), (319.6, 0.00196), (320.4, 0.00117), (321.9, 0.00274), (323.0, 0.00243), (324.0, 0.00163),
    (325.2, 0.00112), (326.5, 0.00151), (327.5, 0.00289), (328.5, 0.00219), (329.6, 0.00106), (330.9, 0.00138),
    (332.0, 0.00332), (333.0, 0.00196), (334.2, 0.00163), (335.6, 0.00117), (336.7, 0.00274), (337.7, 0.00243),
    (338.8, 0.00112), (340.2, 0.00151), (341.3, 0.00289), (342.3, 0.00219), (343.4, 0.00163), (344.9, 0.00106),
    (346.0, 0.00138), (347.1, 0.00332), (348.0, 0.00196), (349.5, 0.00117), (350.6, 0.00274), (351.6, 0.00243),
    (352.8, 0.00163), (354.2, 0.00112), (355.3, 0.00151), (356.3, 0.00289), (357.4, 0.00219), (358.9, 0.00106),
    (360.1, 0.00138), (361.1, 0.00196), (362.3, 0.00332), (363.8, 0.00117), (364.8, 0.00274), (365.9, 0.00163),
    (367.0, 0.00243), (368.6, 0.00112), (369.7, 0.00151), (370.8, 0.00289), (371.9, 0.00219), (373.5, 0.00106),
    (374.5, 0.00138), (375.6, 0.00196), (376.7, 0.00163), (378.3, 0.00332), (379.4, 0.00117), (380.5, 0.00274),
    (381.6, 0.00243), (383.2, 0.00112), (384.4, 0.00151), (385.5, 0.00219), (386.6, 0.00289), (388.2, 0.00106),
    (389.3, 0.00163), (390.4, 0.00138), (391.5, 0.00196), (393.2, 0.00117), (394.3, 0.00332), (395.4, 0.00274),
    (396.5, 0.00243), (398.2, 0.00112), (399.3, 0.00163), (400.4, 0.00151), (401.5, 0.00289), (403.2, 0.00219),
    (404.3, 0.00106), (405.5, 0.00138), (406.6, 0.00196), (408.3, 0.00163), (409.4, 0.00117), (410.5, 0.00332),
    (411.7, 0.00274), (413.4, 0.00243), (414.5, 0.00112), (415.6, 0.00151), (416.8, 0.00219), (418.5, 0.00289),
    (419.6, 0.00106), (420.7, 0.00163), (421.9, 0.00138), (423.6, 0.00196), (424.8, 0.00117), (425.9, 0.00274),
    (427.0, 0.00332), (428.8, 0.00243), (429.9, 0.00163), (431.0, 0.00112), (432.2, 0.00151), (434.0, 0.00289),
    (435.1, 0.00219), (436.3, 0.00106), (437.4, 0.00138), (439.2, 0.00163), (440.4, 0.00196), (441.5, 0.00117),
    (442.7, 0.00274), (444.5, 0.00332), (445.7, 0.00243), (446.8, 0.00112), (448.0, 0.00151), (449.8, 0.00219),
    (451.0, 0.00289), (452.2, 0.00163), (453.4, 0.00106), (455.2, 0.00138), (456.4, 0.00196), (457.6, 0.00117),
    (458.8, 0.00163), (460.6, 0.00274), (461.8, 0.00332), (463.0, 0.00243), (464.2, 0.00112), (466.0, 0.00151),
    (467.3, 0.00289), (468.5, 0.00219), (469.7, 0.00106), (471.5, 0.00163), (472.8, 0.00138), (474.0, 0.00196),
    (475.2, 0.00117), (477.1, 0.00274), (478.3, 0.00243), (479.5, 0.00332), (480.8, 0.00163), (482.6, 0.00112),
    (483.9, 0.00151), (485.1, 0.00219), (486.4, 0.00289), (488.2, 0.00106), (489.5, 0.00138), (490.7, 0.00163),
    (492.0, 0.00196), (493.9, 0.00117), (495.1, 0.00274), (496.4, 0.00243), (497.7, 0.00332), (499.6, 0.00112)]
exp_noise_j = [
    (401.2, 0.0042), (403.9, 0.0071), (405.1, 0.0055), (407.9, 0.0092), (409.1, 0.0038), (411.3, 0.0063),
    (412.9, 0.0048), (414.9, 0.0081), (416.3, 0.0057), (417.7, 0.0104), (419.1, 0.0044), (420.4, 0.0068),
    (422.6, 0.0052), (424.0, 0.0087), (425.3, 0.0039), (427.7, 0.0061), (429.3, 0.0075), (430.8, 0.0046),
    (432.1, 0.0098), (433.9, 0.0058), (435.7, 0.0072), (437.0, 0.0041), (438.8, 0.0114), (440.2, 0.0065),
    (442.3, 0.0049), (443.4, 0.0079), (444.6, 0.0103), (446.0, 0.0057), (447.9, 0.0043), (449.3, 0.0069),
    (450.9, 0.0091), (452.8, 0.0052), (454.1, 0.0077), (455.8, 0.0061), (457.3, 0.0128), (458.4, 0.0046),
    (460.0, 0.0073), (461.4, 0.0108), (462.6, 0.0055), (464.6, 0.0084), (465.9, 0.0042), (467.5, 0.0066),
    (469.1, 0.0119), (470.3, 0.0058), (471.9, 0.0089), (473.2, 0.0047), (474.4, 0.0071), (476.1, 0.0133),
    (477.7, 0.0062), (478.8, 0.0095), (480.4, 0.0051), (481.7, 0.0078), (483.2, 0.0112), (484.8, 0.0064),
    (486.0, 0.0045), (487.4, 0.0086), (488.9, 0.0141), (490.3, 0.0059), (491.9, 0.0102), (493.4, 0.0072),
    (494.8, 0.0049), (496.2, 0.0083), (497.6, 0.0126), (498.9, 0.0062), (499.8, 0.0095), (330.4, 0.0039),
    (334.8, 0.0045), (336.9, 0.0036), (340.4, 0.0052), (343.1, 0.0041), (346.9, 0.0063), (349.0, 0.0038),
    (352.6, 0.0048), (355.1, 0.0058), (357.3, 0.0042), (359.9, 0.0069), (362.9, 0.0039), (365.6, 0.0053),
    (368.9, 0.0045), (371.6, 0.0078), (373.8, 0.0043), (376.4, 0.0058), (378.6, 0.0049), (381.9, 0.0037),
    (384.1, 0.0063), (386.2, 0.0047), (388.4, 0.0071), (390.9, 0.0043), (393.1, 0.0056), (395.9, 0.0048),
    (397.2, 0.0089), (399.6, 0.0052)]
exp_ir = [
    (589.3, 0.014), (590.5, 0.0211), (590.5, 0.0285), (594.3, 0.0396), (594.3, 0.054), (596.5, 0.0664),
    (596.5, 0.0792), (597.5, 0.0925), (599.5, 0.1046), (599.5, 0.116), (601.6, 0.126), (603.5, 0.1333),
    (606.6, 0.1405), (609.7, 0.148), (611.9, 0.156), (615, 0.164), (618.2, 0.161), (620.4, 0.153), (622.4, 0.145),
    (623.6, 0.133), (625.5, 0.124), (627.8, 0.110), (628.7, 0.0925), (631, 0.075), (633.2, 0.0569), (633.2, 0.0454),
    (641.7, 0.0806), (644, 0.075), (647.3, 0.0712), (650.7, 0.0727), (653, 0.0664), (656.4, 0.0632), (658.5, 0.0601),
    (661, 0.0569), (664.4, 0.054), (667.9, 0.0514), (670.3, 0.0478), (673.7, 0.0447), (676, 0.0417), (636.5, 0.0698),
    (639.8, 0.0632), (662, 0.0496), (664.4, 0.0463), (669, 0.0432), (678, 0.0389), (681.4, 0.055), (685, 0.0727),
    (689.5, 0.0925), (689.5, 0.110), (691, 0.131), (693, 0.156), (694.5, 0.182), (696.6, 0.205), (699, 0.231),
    (701.5, 0.257), (705, 0.285), (708.7, 0.29), (713.4, 0.30), (717, 0.311), (720.7, 0.316), (718, 0.343),
    (723.2, 0.306), (725.4, 0.271), (728, 0.244), (728, 0.22), (730.3, 0.209), (732.7, 0.198), (737.8, 0.188),
    (735.6, 0.191), (744, 0.212), (747.6, 0.24), (750, 0.271), (752.5, 0.28), (756.3, 0.262), (760, 0.249),
    (762.6, 0.236), (766.4, 0.22), (770.3, 0.209), (775.3, 0.198), (779, 0.185), (782, 0.172), (784.3, 0.156),
    (786, 0.14), (788.5, 0.131), (788.5, 0.110), (788.5, 0.078), (791.2, 0.0591), (792.4, 0.0514), (792.4, 0.0447),
    (793.6, 0.0389), (795, 0.0304), (797.7, 0.0247), (799, 0.0215), (800, 0.0175), (801.2, 0.014), (801.2, 0.0115),
    (711, 0.275), (716, 0.29), (732.7, 0.185), (753.7, 0.30), (746, 0.224), (788.5, 0.095), (790, 0.068),
    (803.6, 0.0087), (804.5, 0.0071), (808, 0.0056), (808, 0.0045), (811, 0.0037), (815, 0.0032), (822, 0.0026),
    (829, 0.0018), (829, 0.0014), (818, 0.0029), (826, 0.0022), (884.5, 0.296), (887.6, 0.285), (890.7, 0.271),
    (880, 0.262), (887.6, 0.244), (890.7, 0.231), (877, 0.224), (893.7, 0.209), (877, 0.191), (872.4, 0.169),
    (898.4, 0.185), (902.8, 0.167), (872.4, 0.153), (905.6, 0.143), (867.8, 0.106), (902.8, 0.118), (865, 0.0727),
    (861.8, 0.0569), (860.5, 0.0389), (857.7, 0.0275), (854.6, 0.0195), (851.7, 0.0138), (850, 0.0094),
    (910.6, 0.0912), (915.3, 0.0632), (918.3, 0.0463), (921.4, 0.0327), (926.2, 0.0233), (929.5, 0.0164),
    (934.3, 0.0103), (884.5, 0.28), (881.4, 0.253), (892.5, 0.29), (869, 0.13), (863, 0.09), (907, 0.105),
    (857.7, 0.0074), (856, 0.0058), (855, 0.0046), (918, 0.0085), (921, 0.006), (926, 0.0045), (926, 0.0034),
    (942, 0.0034), (950, 0.0026), (947, 0.002), (953.6, 0.0017), (966, 0.003), (962, 0.0023), (955, 0.0044),
    (957, 0.0039), (959, 0.0034)]

x_tick_vals = [10, 100, 1000]
x_tick_text = ["10", "100", "1000"]
y_tick_vals = [0.001, 0.01, 0.1, 1]
y_tick_text = ["1E-3", "0,01", "0,1", "1"]
thz_range = [10, 100]
thz_level = 0.00122
thz_label_pos = (33.6, 0.00159)

# ------------------------------------------------------------------ build


def merge_extrema(start_w, start_t, pw, pt, tw, tt):
    pts = sorted(list(zip(pw, pt)) + list(zip(tw, tt)))
    return [start_w] + [p[0] for p in pts], [start_t] + [p[1] for p in pts]


fit_x, fit_y = merge_extrema(fit_start_w, fit_start_t, fit_peak_w, fit_peak_t, fit_trough_w, fit_trough_t)
tds_x, tds_y = merge_extrema(tds_start_w, tds_start_t, fit_peak_w[:len(tds_peak_t)], tds_peak_t,
                             fit_trough_w[:len(tds_trough_t)], tds_trough_t)
exp_all = (exp_low + exp_edge + exp_band + exp_noise_a + exp_noise_b + exp_noise_c + exp_noise_d
           + exp_noise_e + exp_noise_f + exp_noise_g + exp_noise_h + exp_noise_i + exp_noise_j + exp_ir)

RED = "#FF0000"
BLUE = "#0000FF"
TEXT_FONT = "DejaVu Sans"
TICK_FONT = "Liberation Sans"

fig = go.Figure()

fig.add_trace(go.Scatter(
    x=[p[0] for p in exp_all], y=[p[1] for p in exp_all], mode="markers", name="exp data",
    marker=dict(color="black", size=3.8, line=dict(width=0)), legendrank=1))

fig.add_trace(go.Scatter(
    x=tds_x, y=tds_y, mode="lines", line=dict(color=BLUE, width=4.2, shape="spline", smoothing=1.0),
    showlegend=False, hoverinfo="skip"))
fig.add_trace(go.Scatter(
    x=[p[0] for p in tds_points], y=[p[1] for p in tds_points], mode="markers", name="exp data TDS",
    marker=dict(color=BLUE, size=3.4, line=dict(width=0)), legendrank=2))

fig.add_trace(go.Scatter(
    x=fit_x, y=fit_y, mode="lines", name="fit", line=dict(color=RED, width=3, shape="spline", smoothing=1.0),
    legendrank=3))
fig.add_trace(go.Scatter(x=fit_tail_w, y=fit_tail_t, mode="lines", line=dict(color=RED, width=3),
                         showlegend=False))
fig.add_trace(go.Scatter(x=band_w, y=band_lo, mode="lines", line=dict(color=RED, width=2.5),
                         showlegend=False))
fig.add_trace(go.Scatter(x=band_w, y=band_hi, mode="lines", line=dict(color=RED, width=2.5),
                         fill="tonexty", fillcolor=RED, showlegend=False))
fig.add_trace(go.Scatter(x=fit_tail2_w, y=fit_tail2_t, mode="lines", line=dict(color=RED, width=3),
                         showlegend=False))
fig.add_trace(go.Scatter(x=band2_w, y=band2_lo, mode="lines", line=dict(color=RED, width=2.5),
                         showlegend=False))
fig.add_trace(go.Scatter(x=band2_w, y=band2_hi, mode="lines", line=dict(color=RED, width=2.5),
                         fill="tonexty", fillcolor=RED, showlegend=False))

axis_common = dict(
    type="log", showline=True, linewidth=2, linecolor="black", mirror="allticks",
    ticks="inside", ticklen=14, tickwidth=2, tickcolor="black", showgrid=False, zeroline=False,
    tickfont=dict(family=TICK_FONT, size=23, color="black"),
    minor=dict(ticks="inside", ticklen=7, tickwidth=2, tickcolor="black", tickmode="linear",
               dtick="D1", showgrid=False),
)

fig.update_xaxes(range=[1, 3], tickmode="array", tickvals=x_tick_vals, ticktext=x_tick_text,
                 ticklabelstandoff=5,
                 title=dict(text="Wavenumber(cm<sup>-1</sup>)", font=dict(family=TEXT_FONT, size=29, color="black"),
                            standoff=32),
                 **axis_common)
fig.update_yaxes(range=[-3, 0], tickmode="array", tickvals=y_tick_vals, ticktext=y_tick_text,
                 ticklabelstandoff=13, **axis_common)

# y-axis title (rotated text, placed like the original)
fig.add_annotation(x=-0.1128, y=0.4677, xref="paper", yref="paper", text="Transmittance",
                   textangle=-90, showarrow=False, xanchor="center", yanchor="middle",
                   font=dict(family=TEXT_FONT, size=29, color="black"))

# THz annotation (double arrow between 10 and 100 cm-1)
fig.add_annotation(x=math.log10(thz_range[1]), y=math.log10(thz_level), ax=math.log10(thz_range[0]),
                   ay=math.log10(thz_level), xref="x", yref="y", axref="x", ayref="y", text="",
                   showarrow=True, arrowhead=2, startarrowhead=5, arrowside="end+start",
                   arrowsize=1.6, startarrowsize=1.6, arrowwidth=1.2, arrowcolor="black",
                   standoff=0, startstandoff=0)
fig.add_annotation(x=math.log10(thz_label_pos[0]), y=math.log10(thz_label_pos[1]), xref="x", yref="y",
                   text="<b><i>T H z</i></b>", showarrow=False,
                   font=dict(family=TICK_FONT, size=34, color="black"))

# the page body adds an 8 px offset, so the figure is 8 px smaller than the window
fig.update_layout(
    width=1052, height=778,
    margin=dict(l=122, r=30, t=13, b=100, autoexpand=False),
    paper_bgcolor="white", plot_bgcolor="white",
    font=dict(family=TICK_FONT, color="black"),
    showlegend=True,
    legend=dict(x=0.142, y=0.5875, xanchor="left", yanchor="top", bgcolor="rgba(0,0,0,0)",
                borderwidth=0, font=dict(family=TEXT_FONT, size=28, color="black"),
                traceorder="normal", itemsizing="trace"),
)

fig.write_html("out.html")
